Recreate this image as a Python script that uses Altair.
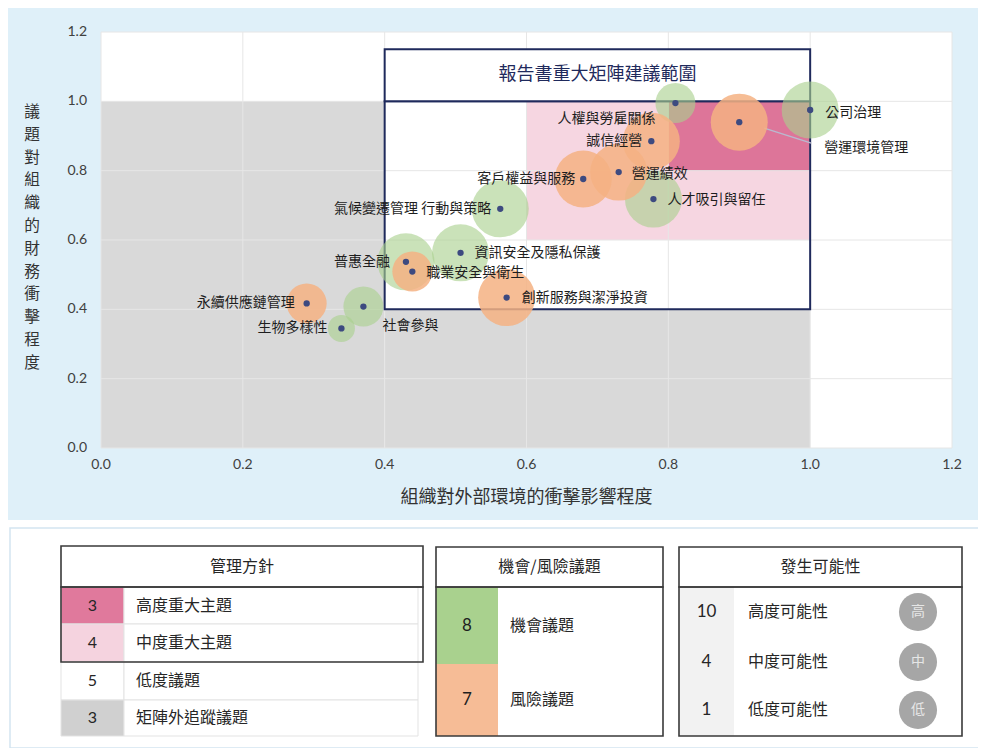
import altair as alt
import pandas as pd

# ---------------- data ----------------
topics = ["公司治理", "營運環境管理", "人權與勞雇關係", "誠信經營", "營運績效",
          "客戶權益與服務", "人才吸引與留任", "氣候變遷管理 行動與策略",
          "資訊安全及隱私保護", "普惠全融", "職業安全與衛生", "創新服務與潔淨投資",
          "社會參與", "生物多樣性", "永續供應鏈管理"]
external_impact = [1.0, 0.90, 0.81, 0.776, 0.73, 0.68, 0.779, 0.563,
                   0.507, 0.43, 0.439, 0.572, 0.37, 0.339, 0.29]
financial_impact = [0.975, 0.94, 0.995, 0.885, 0.796, 0.776, 0.718, 0.69,
                    0.563, 0.537, 0.509, 0.434, 0.408, 0.345, 0.417]
issue_type = ["機會", "風險", "機會", "風險", "風險", "風險", "機會", "機會",
              "機會", "機會", "風險", "風險", "機會", "機會", "風險"]
likelihood = ["高", "高", "中", "高", "高", "高", "高", "高",
              "高", "高", "中", "高", "中", "低", "中"]

axis_ticks = [0.0, 0.2, 0.4, 0.6, 0.8, 1.0, 1.2]
x_title = "組織對外部環境的衝擊影響程度"
y_title = "議題對組織的財務衝擊程度"

region_name = ["矩陣外追蹤議題", "矩陣外追蹤議題", "中度重大主題", "高度重大主題"]
region_x0 = [0.0, 0.4, 0.6, 0.8]
region_x1 = [0.4, 1.0, 1.0, 1.0]
region_y0 = [0.0, 0.0, 0.6, 0.8]
region_y1 = [1.0, 0.4, 1.0, 1.0]

box_x0 = [0.4, 0.4]
box_x1 = [1.0, 1.0]
box_y0 = [0.4, 1.0]
box_y1 = [1.0, 1.15]
box_title = "報告書重大矩陣建議範圍"

# legend tables
mgmt_counts = ["3", "4", "5", "3"]
mgmt_labels = ["高度重大主題", "中度重大主題", "低度議題", "矩陣外追蹤議題"]
type_counts = ["8", "7"]
type_labels = ["機會議題", "風險議題"]
like_counts = ["10", "4", "1"]
like_labels = ["高度可能性", "中度可能性", "低度可能性"]
like_badges = ["高", "中", "低"]

# ---------------- layout / style ----------------
W, H = 851, 416
PXX, PXY = W / 1.2, H / 1.2
CJK = "Noto Sans CJK TC"
NUM = "Lato"
GREEN, ORANGE = "#A9D18E", "#F4B183"
NAVY = "#1F2A5C"
PANEL_BLUE = "#DFF0F9"


def ux(px):  # pixel offset from plot left -> x data units
    return px / PXX


def uy(py):  # pixel offset from plot top -> y data units
    return 1.2 - py / PXY


# label placement: (align, dx px, dy px)
label_layout = {
    "公司治理": ("left", 15, 3),
    "營運環境管理": ("left", 85, 26),
    "人權與勞雇關係": ("right", -20, 16),
    "誠信經營": ("right", -9, 0),
    "營運績效": ("left", 13, 2),
    "客戶權益與服務": ("right", -8, 0),
    "人才吸引與留任": ("left", 14, 1),
    "氣候變遷管理 行動與策略": ("right", -9, 0),
    "資訊安全及隱私保護": ("left", 14, 0),
    "普惠全融": ("right", -16, 0),
    "職業安全與衛生": ("left", 14, 1),
    "創新服務與潔淨投資": ("left", 15, 0),
    "社會參與": ("left", 19, 19),
    "生物多樣性": ("right", -14, 0),
    "永續供應鏈管理": ("right", -12, 0),
}
level_of = {"低": 1, "中": 2, "高": 3}

df = pd.DataFrame({"topic": topics, "x": external_impact, "y": financial_impact,
                   "type": issue_type, "like": likelihood})
df["level"] = [level_of[v] for v in likelihood]
df["align"] = [label_layout[t][0] for t in topics]
df["lx"] = [x + label_layout[t][1] / PXX for t, x in zip(topics, external_impact)]
df["ly"] = [y - label_layout[t][2] / PXY for t, y in zip(topics, financial_impact)]

i_env = topics.index("營運環境管理")
ex, ey = external_impact[i_env], financial_impact[i_env]
leader = pd.DataFrame({"x": [ex + 25 / PXX], "y": [ey - 6 / PXY],
                       "x2": [ex + 72 / PXX], "y2": [ey - 21 / PXY]})

regions = pd.DataFrame({"name": region_name, "x0": region_x0, "x1": region_x1,
                        "y0": region_y0, "y1": region_y1})
boxes = pd.DataFrame({"x0": box_x0, "x1": box_x1, "y0": box_y0, "y1": box_y1,
                      "fill": ["transparent", "white"]})
ticks = pd.DataFrame({"t": axis_ticks, "lo": [0.0] * len(axis_ticks),
                      "hi": [1.2] * len(axis_ticks)})
ticks["label"] = [f"{v:.1f}" for v in axis_ticks]
ticks["xlab_y"] = uy(H + 17)      # x tick labels, 17 px under the plot
ticks["ylab_x"] = ux(-14)         # y tick labels, 14 px left of the plot

xs = alt.Scale(domain=[0, 1.2], nice=False, zero=False)
ys = alt.Scale(domain=[0, 1.2], nice=False, zero=False)
XN = dict(scale=xs, axis=None)
YN = dict(scale=ys, axis=None)

# ---------------- axes (labels + titles) ----------------
xlab = alt.Chart(ticks).mark_text(font=NUM, fontSize=14, color="#404040", align="center",
                                  baseline="middle").encode(
    x=alt.X("t:Q", **XN), y=alt.Y("xlab_y:Q", **YN), text="label:N")
ylab = alt.Chart(ticks).mark_text(font=NUM, fontSize=14, color="#404040", align="right",
                                  baseline="middle").encode(
    x=alt.X("ylab_x:Q", **XN), y=alt.Y("t:Q", **YN), text="label:N")
titles = pd.DataFrame({"t": [x_title], "x": [0.6], "y": [uy(466)]})
xtitle = alt.Chart(titles).mark_text(font=CJK, fontSize=18, color="#333333", align="center",
                                     baseline="middle").encode(
    x=alt.X("x:Q", **XN), y=alt.Y("y:Q", **YN), text="t:N")
# vertical (stacked) y title: one character per row, 22.8 px apart
ytitles = pd.DataFrame({"t": list(y_title),
                        "x": [ux(-69)] * len(y_title),
                        "y": [uy(80 + 22.8 * i) for i in range(len(y_title))]})
ytitle = alt.Chart(ytitles).mark_text(font=CJK, fontSize=15.7, color="#333333", align="center",
                                      baseline="middle").encode(
    x=alt.X("x:Q", **XN), y=alt.Y("y:Q", **YN), text="t:N")

# ---------------- main plot layers ----------------
region_layer = alt.Chart(regions).mark_rect().encode(
    x=alt.X("x0:Q", **XN), x2="x1:Q",
    y=alt.Y("y0:Q", **YN), y2="y1:Q",
    fill=alt.Fill("name:N", scale=alt.Scale(domain=["矩陣外追蹤議題", "中度重大主題", "高度重大主題"],
                                             range=["#D9D9D9", "#F6D6E1", "#DD7599"]), legend=None))

vgrid = alt.Chart(ticks).mark_rule(color="#E6E6E6", strokeWidth=1).encode(
    x=alt.X("t:Q", **XN), y=alt.Y("lo:Q", **YN), y2="hi:Q")
hgrid = alt.Chart(ticks).mark_rule(color="#E6E6E6", strokeWidth=1).encode(
    y=alt.Y("t:Q", **YN), x=alt.X("lo:Q", **XN), x2="hi:Q")

box_layer = alt.Chart(boxes).mark_rect(stroke=NAVY, strokeWidth=2).encode(
    x=alt.X("x0:Q", **XN), x2="x1:Q", y=alt.Y("y0:Q", **YN), y2="y1:Q",
    fill=alt.Fill("fill:N", scale=None))

title_layer = alt.Chart(pd.DataFrame({"t": [box_title], "x": [0.7], "y": [1.075]})).mark_text(
    font=CJK, fontSize=18, color=NAVY, align="center", baseline="middle").encode(
    x=alt.X("x:Q", **XN), y=alt.Y("y:Q", **YN), text="t:N")

leader_layer = alt.Chart(leader).mark_rule(color="#B9B9CF", strokeWidth=1.5).encode(
    x=alt.X("x:Q", **XN), x2="x2:Q", y=alt.Y("y:Q", **YN), y2="y2:Q")

# symbol size = area of bounding square = (2r)^2 ; radii ~13.5 / 20 / 28.5 px
size_scale = alt.Scale(domain=[1, 2, 3], range=[729, 1600, 3250], zero=False)
color_scale = alt.Scale(domain=["機會", "風險"], range=[GREEN, ORANGE])


def bubble_layer(kind, op):
    return alt.Chart(df).transform_filter(alt.datum.type == kind).mark_circle(
        opacity=op).encode(
        x=alt.X("x:Q", **XN), y=alt.Y("y:Q", **YN),
        size=alt.Size("level:Q", scale=size_scale, legend=None),
        color=alt.Color("type:N", scale=color_scale, legend=None))


bubbles_g = bubble_layer("機會", 0.62)
bubbles_o = bubble_layer("風險", 0.85)

dots = alt.Chart(df).mark_circle(size=40, color="#3D4A80", opacity=1).encode(
    x=alt.X("x:Q", **XN), y=alt.Y("y:Q", **YN))

labels_left = alt.Chart(df).transform_filter(alt.datum.align == "left").mark_text(
    font=CJK, fontSize=14, color="#1E1E1E", align="left", baseline="middle").encode(
    x=alt.X("lx:Q", **XN), y=alt.Y("ly:Q", **YN), text="topic:N")
labels_right = alt.Chart(df).transform_filter(alt.datum.align == "right").mark_text(
    font=CJK, fontSize=14, color="#1E1E1E", align="right", baseline="middle").encode(
    x=alt.X("lx:Q", **XN), y=alt.Y("ly:Q", **YN), text="topic:N")

# ---------------- lower legend panel & tables (pixel layout relative to plot origin) ----------------
panels = pd.DataFrame({"x0": [-95, -91], "x1": [880, 878], "y0": [488, 496], "y1": [720, 716],
                       "fill": ["white", "white"], "stroke": ["transparent", "#D3E5F1"]})

T1 = (-40, 23, 322)      # left, column split, right
T2 = (335, 397, 562)
T3 = (578, 633, 861)
HDR = (514, 555)
t1_rows = [(555, 592), (592, 630), (630, 668), (668, 704)]
t2_rows = [(555, 632), (632, 704)]
t3_rows_y = [580, 630, 678]

cells = []
mg_fill = ["#E0799C", "#F5D3DF", "white", "#D0D0D0"]
for (r0, r1), f in zip(t1_rows, mg_fill):
    cells.append((T1[0], T1[1], r0, r1, f, "#E3E3E3"))
    cells.append((T1[1], T1[2] - 5, r0, r1, "white", "#E3E3E3"))
for (r0, r1), f in zip(t2_rows, [GREEN, "#F6BC96"]):
    cells.append((T2[0], T2[1], r0, r1, f, "transparent"))
    cells.append((T2[1], T2[2], r0, r1, "white", "transparent"))
cells.append((T3[0], T3[1], 555, 704, "#F2F2F2", "transparent"))
cells.append((T3[1], T3[2], 555, 704, "white", "transparent"))
cells_df = pd.DataFrame(cells, columns=["x0", "x1", "y0", "y1", "fill", "stroke"])

outlines = [(T1[0], T1[2], HDR[0], HDR[1]), (T1[0], T1[2], 555, 630),
            (T2[0], T2[2], HDR[0] + 1, HDR[1]), (T2[0], T2[2], 555, 704),
            (T3[0], T3[2], HDR[0] + 1, HDR[1]), (T3[0], T3[2], 555, 704)]
outlines_df = pd.DataFrame(outlines, columns=["x0", "x1", "y0", "y1"])

center_txt = [("管理方針", (T1[0] + T1[2]) / 2, 535, CJK, 16, "#262626"),
              ("機會/風險議題", (T2[0] + T2[2]) / 2, 535, CJK, 16, "#262626"),
              ("發生可能性", (T3[0] + T3[2]) / 2, 535, CJK, 16, "#262626")]
for c, (r0, r1) in zip(mgmt_counts, t1_rows):
    center_txt.append((c, (T1[0] + T1[1]) / 2, (r0 + r1) / 2, NUM, 16, "#262626"))
for c, (r0, r1) in zip(type_counts, t2_rows):
    center_txt.append((c, (T2[0] + T2[1]) / 2, (r0 + r1) / 2, NUM, 17, "#1F1F1F"))
for c, yy in zip(like_counts, t3_rows_y):
    center_txt.append((c, (T3[0] + T3[1]) / 2, yy, NUM, 17, "#262626"))
for c, yy in zip(like_badges, t3_rows_y):
    center_txt.append((c, 817, yy, CJK, 14, "#E6E6E6"))
center_df = pd.DataFrame(center_txt, columns=["t", "x", "y", "font", "fs", "col"])

left_txt = []
for c, (r0, r1) in zip(mgmt_labels, t1_rows):
    left_txt.append((c, T1[1] + 12, (r0 + r1) / 2))
for c, (r0, r1) in zip(type_labels, t2_rows):
    left_txt.append((c, T2[1] + 12, (r0 + r1) / 2))
for c, yy in zip(like_labels, t3_rows_y):
    left_txt.append((c, T3[1] + 14, yy))
left_df = pd.DataFrame(left_txt, columns=["t", "x", "y"])

badges_df = pd.DataFrame({"b": like_badges, "x": [817] * 3, "y": t3_rows_y})

# convert pixel layout to data units of the shared scales
for d, xc, yc in [(panels, ["x0", "x1"], ["y0", "y1"]),
                  (cells_df, ["x0", "x1"], ["y0", "y1"]),
                  (outlines_df, ["x0", "x1"], ["y0", "y1"]),
                  (center_df, ["x"], ["y"]), (left_df, ["x"], ["y"]),
                  (badges_df, ["x"], ["y"])]:
    for c in xc:
        d[c] = d[c].map(ux)
    for c in yc:
        d[c] = d[c].map(uy)

panel_layer = alt.Chart(panels).mark_rect(strokeWidth=1.5).encode(
    x=alt.X("x0:Q", **XN), x2="x1:Q", y=alt.Y("y0:Q", **YN), y2="y1:Q",
    fill=alt.Fill("fill:N", scale=None), stroke=alt.Stroke("stroke:N", scale=None))
cell_layer = alt.Chart(cells_df).mark_rect(strokeWidth=1).encode(
    x=alt.X("x0:Q", **XN), x2="x1:Q", y=alt.Y("y0:Q", **YN), y2="y1:Q",
    fill=alt.Fill("fill:N", scale=None), stroke=alt.Stroke("stroke:N", scale=None))
outline_layer = alt.Chart(outlines_df).mark_rect(fill="transparent", stroke="#3A3A3A",
                                                 strokeWidth=1.6).encode(
    x=alt.X("x0:Q", **XN), x2="x1:Q", y=alt.Y("y0:Q", **YN), y2="y1:Q")
badge_layer = alt.Chart(badges_df).mark_circle(size=1450, color="#A6A6A6", opacity=1).encode(
    x=alt.X("x:Q", **XN), y=alt.Y("y:Q", **YN))
center_layers = []
for (font, fs, col), sub in center_df.groupby(["font", "fs", "col"]):
    center_layers.append(alt.Chart(sub.reset_index(drop=True)).mark_text(
        font=font, fontSize=fs, color=col, align="center", baseline="middle").encode(
        x=alt.X("x:Q", **XN), y=alt.Y("y:Q", **YN), text="t:N"))
left_layer = alt.Chart(left_df).mark_text(font=CJK, fontSize=16, color="#262626",
                                          align="left", baseline="middle").encode(
    x=alt.X("x:Q", **XN), y=alt.Y("y:Q", **YN), text="t:N")

chart = alt.layer(
    region_layer, vgrid, hgrid, box_layer, title_layer,
    leader_layer, bubbles_g, bubbles_o, dots, labels_left, labels_right,
    xlab, ylab, xtitle, ytitle,
    panel_layer, cell_layer, outline_layer, badge_layer, *center_layers, left_layer
).properties(
    width=W, height=H,
    autosize=alt.AutoSizeParams(type="none"),
    padding={"left": 93, "top": 24, "right": 26, "bottom": 300},
).configure(background=PANEL_BLUE).configure_view(stroke=None, fill="white")

chart.save("out.html", embed_options={"renderer": "svg", "actions": False})
